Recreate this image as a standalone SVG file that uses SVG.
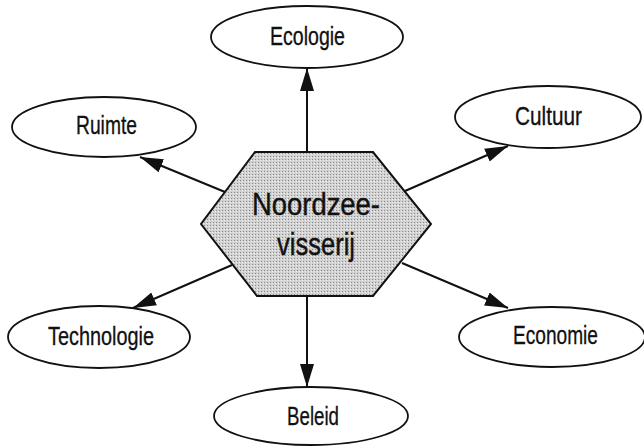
<svg xmlns="http://www.w3.org/2000/svg" width="644" height="446" viewBox="0 0 644 446">
<style>
.node ellipse{fill:#fff;stroke:#111;stroke-width:1.8}
.lbl{font-family:"Liberation Sans",Arial,sans-serif;font-size:25px;fill:#111;text-anchor:middle;stroke:#111;stroke-width:0.3}
.big{font-family:"Liberation Sans",Arial,sans-serif;font-size:31px;fill:#111;text-anchor:middle;stroke:#111;stroke-width:0.4}
.conn line{stroke:#111;stroke-width:2;marker-end:url(#ah)}
</style>
<defs>
<marker id="ah" markerUnits="userSpaceOnUse" markerWidth="24" markerHeight="15" refX="23" refY="7.5" orient="auto">
<path d="M0,0.5 L23,7.5 L0,14.5 Z" fill="#111"/>
</marker>
<pattern id="dots" width="3" height="3" patternUnits="userSpaceOnUse">
<rect width="3" height="3" fill="#d2d2d2"/>
<rect x="0" y="0" width="1" height="1" fill="#8a8a8a"/>
<rect x="2" y="1" width="1" height="1" fill="#f0f0f0"/>
</pattern>
</defs>
<rect width="644" height="446" fill="#fff"/>
<g id="connectors" class="conn">
<line x1="307" y1="152" x2="307" y2="68"/>
<line x1="307" y1="296" x2="307" y2="387"/>
<line x1="225" y1="192" x2="140" y2="157"/>
<line x1="405" y1="191" x2="508" y2="146"/>
<line x1="232" y1="265" x2="133" y2="308"/>
<line x1="402" y1="263" x2="508" y2="308"/>
</g>
<g id="center">
<polygon points="255,152 373,152 431,224 373,296 257,296 201,224" fill="url(#dots)" stroke="#111" stroke-width="2"/>
<text class="big" x="316" y="215" textLength="128" lengthAdjust="spacingAndGlyphs">Noordzee-</text>
<text class="big" x="316" y="255" textLength="78" lengthAdjust="spacingAndGlyphs">visserij</text>
</g>
<g id="ecologie" class="node">
<ellipse cx="307" cy="37" rx="96" ry="31"/>
<text class="lbl" x="307.5" y="45" textLength="75" lengthAdjust="spacingAndGlyphs">Ecologie</text>
</g>
<g id="ruimte" class="node">
<ellipse cx="104" cy="127" rx="92" ry="30"/>
<text class="lbl" x="106.5" y="134" textLength="61" lengthAdjust="spacingAndGlyphs">Ruimte</text>
</g>
<g id="cultuur" class="node">
<ellipse cx="548" cy="117" rx="93" ry="31"/>
<text class="lbl" x="548.5" y="125" textLength="67" lengthAdjust="spacingAndGlyphs">Cultuur</text>
</g>
<g id="technologie" class="node">
<ellipse cx="99" cy="337" rx="91" ry="31"/>
<text class="lbl" x="101" y="345" textLength="106" lengthAdjust="spacingAndGlyphs">Technologie</text>
</g>
<g id="economie" class="node">
<ellipse cx="552" cy="337" rx="93" ry="30"/>
<text class="lbl" x="555.5" y="344" textLength="85" lengthAdjust="spacingAndGlyphs">Economie</text>
</g>
<g id="beleid" class="node">
<ellipse cx="311" cy="416" rx="97" ry="29"/>
<text class="lbl" x="313" y="425" textLength="52" lengthAdjust="spacingAndGlyphs">Beleid</text>
</g>
</svg>
